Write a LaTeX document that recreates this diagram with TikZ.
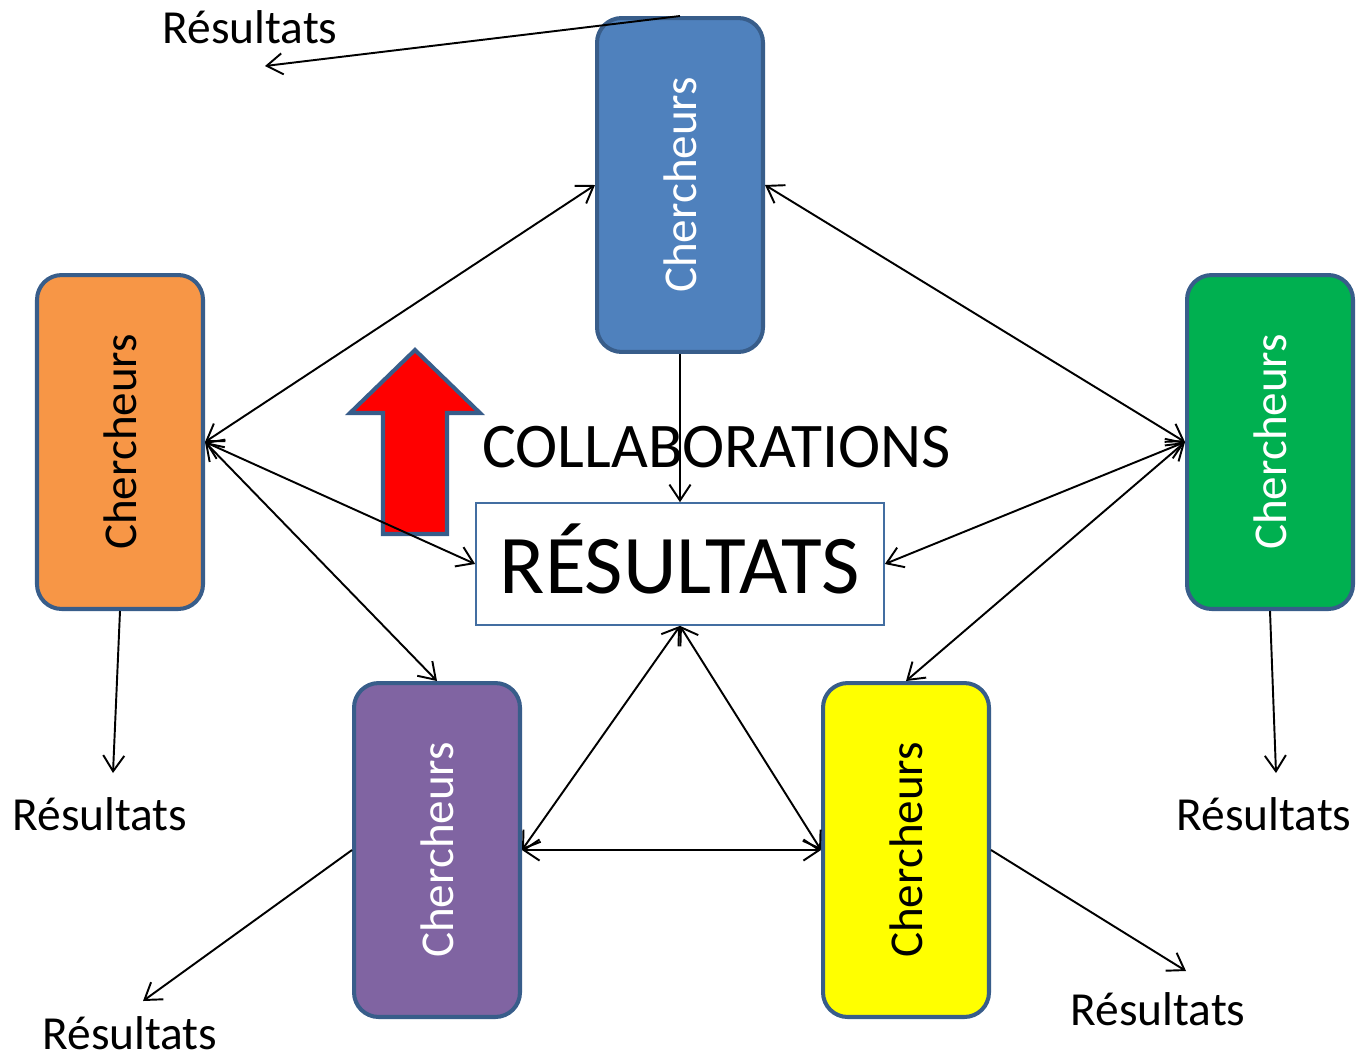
\documentclass[tikz,border=0pt]{standalone}
\usepackage{fontspec}
\setmainfont{Carlito}
\usetikzlibrary{arrows.meta}

\definecolor{bordure}{HTML}{385D8A}
\definecolor{cbleu}{HTML}{4F81BD}
\definecolor{corange}{HTML}{F79646}
\definecolor{cvert}{HTML}{00B050}
\definecolor{cviolet}{HTML}{8064A2}
\definecolor{cjaune}{HTML}{FFFF00}

\tikzset{
    chercheur/.style={draw=bordure, line width=2.3pt, rounded corners=14pt,
        minimum width=3.32cm, minimum height=6.68cm, inner sep=0pt,
        font=\fontsize{26.8}{30}\selectfont},
    resultat/.style={font=\fontsize{27}{30}\selectfont, inner sep=0pt},
    lien/.style={line width=1.1pt, >={Straight Barb[length=9pt,width=12pt]}}
}

\begin{document}
\begin{tikzpicture}[x=0.02cm, y=-0.02cm]
    % page frame
    \useasboundingbox[fill=white] (0,0) rectangle (1362,1059);

    % researchers
    \node[chercheur, fill=cbleu, text=white] (bleu) at (680,185) {\rotatebox{90}{Chercheurs}};
    \node[chercheur, fill=corange] (orange) at (120,442) {\rotatebox{90}{Chercheurs}};
    \node[chercheur, fill=cvert, text=white] (vert) at (1270,442) {\rotatebox{90}{Chercheurs}};
    \node[chercheur, fill=cviolet, text=white] (violet) at (437,850) {\rotatebox{90}{Chercheurs}};
    \node[chercheur, fill=cjaune] (jaune) at (906,850) {\rotatebox{90}{Chercheurs}};

    % central results box
    \node[draw=cbleu!85!black, line width=1pt, fill=white, minimum width=8.16cm,
        minimum height=2.44cm, text height=1.16cm, text depth=0pt,
        font=\fontsize{47.5}{52}\selectfont] (res) at (680,564) {RÉSULTATS};
    \node[anchor=base west, inner sep=0pt, font=\fontsize{36.2}{40}\selectfont] (collab) at (482,467) {COLLABORATIONS};

    % red arrow
    \draw[bordure, line width=2.3pt, fill=red, line join=miter]
        (415,350) -- (480,413) -- (447,413) -- (447,534) -- (383,534)
        -- (383,413) -- (350,413) -- cycle;

    % individual results
    \node[resultat, anchor=base] (resH) at (250,43) {Résultats};
    \node[resultat, anchor=base] (resG) at (100,830) {Résultats};
    \node[resultat, anchor=base] (resD) at (1264,830) {Résultats};
    \node[resultat, anchor=base] (resBG) at (130,1049) {Résultats};
    \node[resultat, anchor=base] (resBD) at (1158,1025) {Résultats};

    \coordinate (finH) at (265,66);
    \coordinate (finG) at (113,773);
    \coordinate (finD) at (1276,773);
    \coordinate (finBG) at (143,1001);
    \coordinate (finBD) at (1186,971);

    % links between researchers
    \draw[lien, <->] (bleu.west) -- (orange.east);
    \draw[lien, <->] (bleu.east) -- (vert.west);
    \draw[lien, <->] (orange.east) -- (violet.north);
    \draw[lien, <->] (vert.west) -- (jaune.north);
    \draw[lien, <->] (violet.east) -- (jaune.west);

    % links to the results box
    \draw[lien, ->] (bleu.south) -- (res.north);
    \draw[lien, <->] (orange.east) -- (res.west);
    \draw[lien, <->] (vert.west) -- (res.east);
    \draw[lien, <->] (violet.east) -- (res.south);
    \draw[lien, <->] (jaune.west) -- (res.south);

    % outputs of each group
    \draw[lien, ->] (bleu.north) -- (finH);
    \draw[lien, ->] (orange.south) -- (finG);
    \draw[lien, ->] (vert.south) -- (finD);
    \draw[lien, ->] (violet.west) -- (finBG);
    \draw[lien, ->] (jaune.east) -- (finBD);
\end{tikzpicture}
\end{document}
